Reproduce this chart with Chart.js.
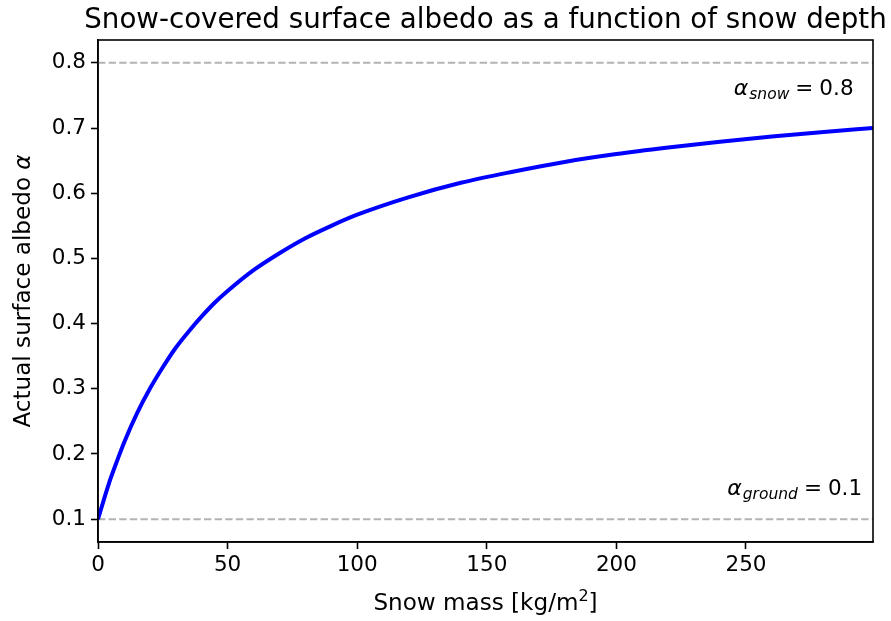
<!DOCTYPE html>
<html>
<head>
<meta charset="utf-8">
<script src="https://cdn.jsdelivr.net/npm/chart.js@4.4.0/dist/chart.umd.min.js"></script>
<style>
  html, body { margin: 0; padding: 0; background: #fff; }
  #albedoChart { display: block; }
</style>
</head>
<body>
<canvas id="albedoChart" width="891" height="621"></canvas>
<script>
// Snow mass (kg/m2) and the resulting surface albedo
const snowMass = [0, 2.5, 5, 7.5, 10, 15, 20, 25, 30, 35, 40, 45, 50, 60, 70, 80, 90, 100, 120, 140, 160, 180, 200, 220, 240, 260, 280, 299]
const albedo = [0.100, 0.133, 0.164, 0.191, 0.217, 0.262, 0.300, 0.333, 0.363, 0.388, 0.411, 0.432, 0.450, 0.482, 0.508, 0.531, 0.550, 0.567, 0.594, 0.616, 0.633, 0.648, 0.660, 0.670, 0.679, 0.687, 0.694, 0.700]

const albedoGround = 0.1
const albedoSnow = 0.8

const xTicks = [0, 50, 100, 150, 200, 250]
const yTicks = [0.1, 0.2, 0.3, 0.4, 0.5, 0.6, 0.7, 0.8]

const FONT = 'DejaVu Sans'

// draws a run of text pieces (plain, italic, subscript) anchored at x
function drawPieces(ctx, pieces, x, y, align) {
    let total = 0
    pieces.forEach(p => {
        ctx.font = p.font
        total += ctx.measureText(p.text).width + (p.gap || 0)
    })
    let cx = align === 'right' ? x - total : x - total / 2
    pieces.forEach(p => {
        ctx.font = p.font
        ctx.fillText(p.text, cx, y + (p.dy || 0))
        cx += ctx.measureText(p.text).width + (p.gap || 0)
    })
}

const textPlugin = {
    id: 'textPlugin',
    afterDraw(chart) {
        const ctx = chart.ctx
        const area = chart.chartArea
        const xs = chart.scales.x
        const ys = chart.scales.y
        ctx.save()
        ctx.fillStyle = '#000'
        ctx.textBaseline = 'alphabetic'
        ctx.textAlign = 'left'

        // frame around the plot
        ctx.strokeStyle = '#000'
        ctx.lineWidth = 1.6
        ctx.strokeRect(area.left, area.top, area.right - area.left, area.bottom - area.top)

        // title
        drawPieces(ctx, [{ text: 'Snow-covered surface albedo as a function of snow depth', font: '27.7px ' + FONT }],
            (area.left + area.right) / 2, 28, 'center')

        // annotations for the two limits
        drawPieces(ctx, [
            { text: 'α', font: 'italic 22px ' + FONT, gap: 1 },
            { text: 'snow', font: 'italic 15.5px ' + FONT, dy: 4, gap: 6 },
            { text: '=', font: '21.5px ' + FONT, gap: 6 },
            { text: '0.8', font: '21.5px ' + FONT }
        ], xs.getPixelForValue(291.5), ys.getPixelForValue(0.751), 'right')

        drawPieces(ctx, [
            { text: 'α', font: 'italic 22px ' + FONT, gap: 1 },
            { text: 'ground', font: 'italic 15.5px ' + FONT, dy: 4, gap: 6 },
            { text: '=', font: '21.5px ' + FONT, gap: 6 },
            { text: '0.1', font: '21.5px ' + FONT }
        ], xs.getPixelForValue(294.8), ys.getPixelForValue(0.137), 'right')

        // x axis label
        drawPieces(ctx, [
            { text: 'Snow mass [kg/m', font: '23.1px ' + FONT },
            { text: '2', font: '16px ' + FONT, dy: -9 },
            { text: ']', font: '23.1px ' + FONT }
        ], (area.left + area.right) / 2, 610, 'center')

        // y axis label
        ctx.translate(30, (area.top + area.bottom) / 2)
        ctx.rotate(-Math.PI / 2)
        drawPieces(ctx, [
            { text: 'Actual surface albedo ', font: '23.1px ' + FONT },
            { text: 'α', font: 'italic 23.1px ' + FONT }
        ], 0, 0, 'center')
        ctx.restore()
    }
}

const ctx = document.getElementById('albedoChart')

new Chart(ctx, {
    type: 'line',
    data: {
        datasets: [
            {
                label: 'albedo',
                data: snowMass.map((m, i) => ({ x: m, y: albedo[i] })),
                borderColor: '#0000ff',
                borderWidth: 4,
                pointRadius: 0,
                cubicInterpolationMode: 'monotone',
                fill: false
            },
            {
                label: 'snow',
                data: [{ x: 0, y: albedoSnow }, { x: 299, y: albedoSnow }],
                borderColor: '#b3b3b3',
                borderWidth: 2,
                borderDash: [7.4, 3.2],
                pointRadius: 0
            },
            {
                label: 'ground',
                data: [{ x: 0, y: albedoGround }, { x: 299, y: albedoGround }],
                borderColor: '#b3b3b3',
                borderWidth: 2,
                borderDash: [7.4, 3.2],
                pointRadius: 0
            }
        ]
    },
    options: {
        responsive: false,
        animation: false,
        layout: { padding: { top: 40, right: 18, left: 0, bottom: 0 } },
        plugins: {
            legend: { display: false },
            tooltip: { enabled: false }
        },
        scales: {
            x: {
                type: 'linear',
                min: 0,
                max: 299,
                afterBuildTicks: s => { s.ticks = xTicks.map(v => ({ value: v })) },
                afterFit: s => { s.height = 79 },
                grid: { drawOnChartArea: false, tickLength: 7, tickWidth: 1.6, tickColor: '#000' },
                border: { display: true, color: '#000', width: 1.6 },
                ticks: {
                    color: '#000',
                    font: { family: FONT, size: 21.5 },
                    padding: 4,
                    maxRotation: 0,
                    callback: v => String(v)
                }
            },
            y: {
                type: 'linear',
                min: 0.065,
                max: 0.835,
                afterBuildTicks: s => { s.ticks = yTicks.map(v => ({ value: v })) },
                afterFit: s => { s.width = 98 },
                grid: { drawOnChartArea: false, tickLength: 7, tickWidth: 1.6, tickColor: '#000' },
                border: { display: true, color: '#000', width: 1.6 },
                ticks: {
                    color: '#000',
                    font: { family: FONT, size: 21.5 },
                    padding: 5,
                    callback: v => v.toFixed(1)
                }
            }
        }
    },
    plugins: [textPlugin]
})
</script>
</body>
</html>
